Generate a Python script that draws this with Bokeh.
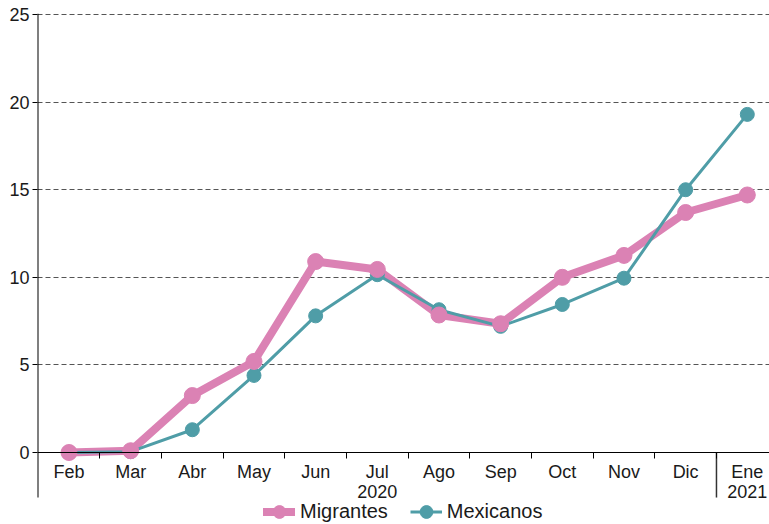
from bokeh.plotting import figure
from bokeh.models import Range1d, FixedTicker, Legend, LegendItem
from bokeh.core.properties import value
from bokeh.embed import file_html
from bokeh.resources import INLINE

months = ["Feb", "Mar", "Abr", "May", "Jun", "Jul", "Ago", "Sep", "Oct", "Nov", "Dic", "Ene"]
years = ["2020", "2021"]
year_counts = [11, 1]
migrantes = [0.0, 0.1, 3.25, 5.2, 10.9, 10.45, 7.85, 7.35, 10.0, 11.25, 13.7, 14.7]
mexicanos = [0.0, 0.05, 1.3, 4.4, 7.8, 10.15, 8.15, 7.2, 8.45, 9.95, 15.0, 19.3]
y_ticks = [0, 5, 10, 15, 20, 25]

PINK = "#db82b4"
TEAL = "#4f9da7"
FONT = "Liberation Sans"
TXT = "#1a1a1a"

x = list(range(len(months)))
x_start, x_end = -0.511, 11.36
y_start, y_end = -4.11, 25.06
axis_bottom = -2.57

p = figure(width=769, height=524, output_backend="svg", toolbar_location=None,
           x_range=Range1d(x_start, x_end), y_range=Range1d(y_start, y_end),
           min_border_left=37, min_border_right=0, min_border_top=13, min_border_bottom=0)
p.outline_line_color = None
p.background_fill_color = "white"
p.border_fill_color = "white"

# y axis (line drawn separately so it stops above the legend)
p.yaxis.ticker = FixedTicker(ticks=y_ticks)
p.yaxis.major_tick_out = 5
p.yaxis.major_tick_in = 0
p.yaxis.minor_tick_line_color = None
p.yaxis.major_label_standoff = 3
p.yaxis.major_label_text_font = FONT
p.yaxis.major_label_text_font_size = "18px"
p.yaxis.major_label_text_color = TXT
p.yaxis.axis_line_color = None
p.yaxis.major_tick_line_color = "black"
p.segment(x0=[x_start], y0=[y_end], x1=[x_start], y1=[axis_bottom],
          line_color="black", line_width=2)

# x axis at y = 0
p.xaxis.fixed_location = 0
boundaries = [i + 0.5 for i in range(len(months) - 1)]
p.xaxis.ticker = FixedTicker(ticks=x, minor_ticks=boundaries)
p.xaxis.major_label_overrides = {i: m for i, m in enumerate(months)}
p.xaxis.major_tick_line_color = None
p.xaxis.major_tick_out = 0
p.xaxis.major_tick_in = 0
p.xaxis.minor_tick_out = 6
p.xaxis.minor_tick_in = 0
p.xaxis.minor_tick_line_color = "black"
p.xaxis.major_label_standoff = 3
p.xaxis.major_label_text_font = FONT
p.xaxis.major_label_text_font_size = "18px"
p.xaxis.major_label_text_color = TXT
p.xaxis.axis_line_color = "black"

# grid
p.xgrid.grid_line_color = None
p.ygrid.ticker = FixedTicker(ticks=y_ticks[1:])
p.ygrid.grid_line_color = "#555555"
p.ygrid.grid_line_dash = "5 3"
p.ygrid.grid_line_width = 1

# year group labels and separator
centers = []
start = 0
for c in year_counts:
    centers.append(start + (c - 1) / 2)
    start += c
p.text(x=centers, y=[-2.2] * len(years), text=years, text_align="center",
       text_baseline="middle", text_font=value(FONT), text_font_size="18px",
       text_color=TXT)
sep_x = [year_counts[0] - 0.5]
p.segment(x0=sep_x, y0=[0], x1=sep_x, y1=[axis_bottom], line_color="#333333", line_width=1.5)

# series
pl = p.line(x, migrantes, line_width=8, color=PINK, line_join="round", line_cap="round")
tl = p.line(x, mexicanos, line_width=3, color=TEAL, line_join="round")
ts = p.scatter(x, mexicanos, size=14, color=TEAL)
ps = p.scatter(x, migrantes, size=16, color=PINK)

legend = Legend(items=[LegendItem(label="Migrantes", renderers=[pl, ps]),
                       LegendItem(label="Mexicanos", renderers=[tl, ts])],
                orientation="horizontal", location=(226, -4))
legend.label_text_font = FONT
legend.label_text_font_size = "20px"
legend.label_text_color = TXT
legend.border_line_color = None
legend.background_fill_alpha = 0
legend.padding = 0
legend.margin = 0
legend.spacing = 22
legend.glyph_width = 32
legend.glyph_height = 33
legend.label_height = 20
legend.label_standoff = 5
p.add_layout(legend, "center")

open("out.html", "w").write(file_html(p, INLINE))
